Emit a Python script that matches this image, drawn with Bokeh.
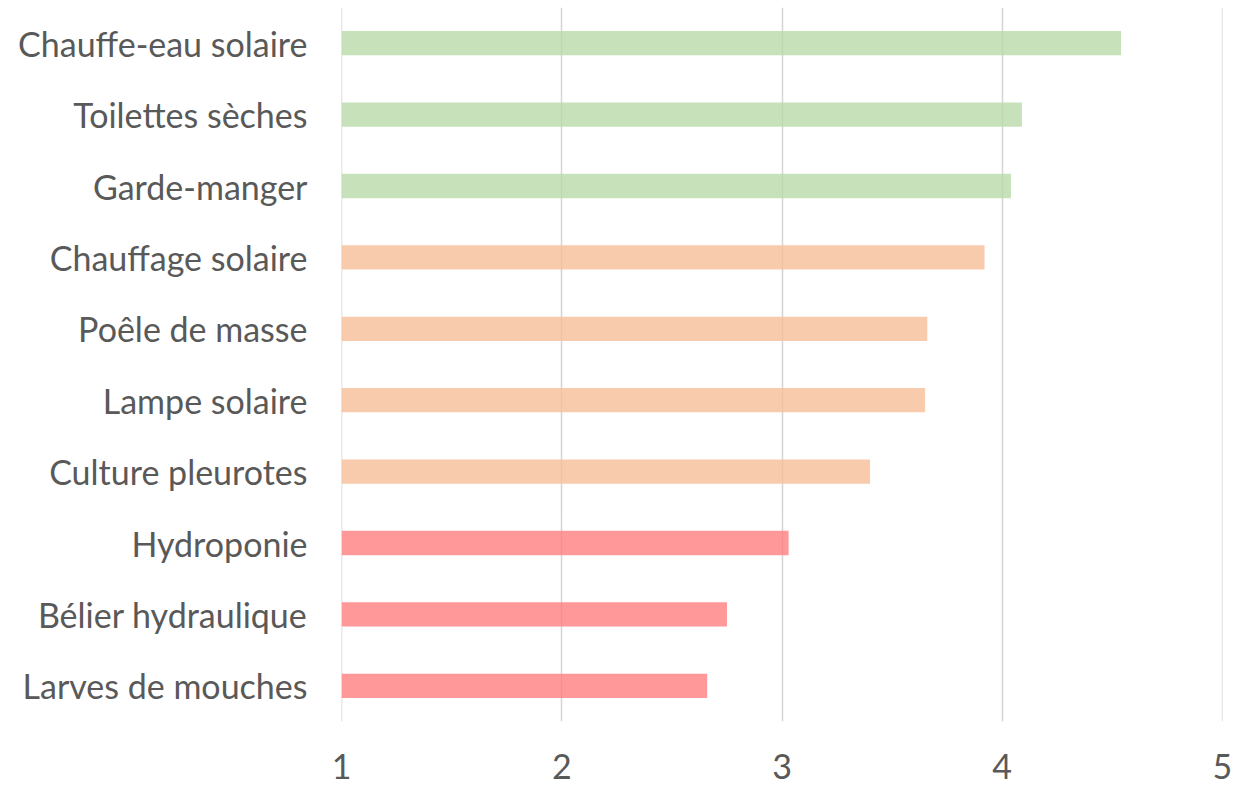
from bokeh.plotting import figure
from bokeh.models import ColumnDataSource, FactorRange, Range1d, FixedTicker
from bokeh.embed import file_html
from bokeh.resources import INLINE

categories = ["Chauffe-eau solaire", "Toilettes sèches", "Garde-manger", "Chauffage solaire",
              "Poêle de masse", "Lampe solaire", "Culture pleurotes", "Hydroponie",
              "Bélier hydraulique", "Larves de mouches"]
values = [4.54, 4.09, 4.04, 3.92, 3.66, 3.65, 3.40, 3.03, 2.75, 2.66]
groups = ["vert", "vert", "vert", "orange", "orange", "orange", "orange", "rouge", "rouge", "rouge"]
group_colors = {"vert": "#b9dbaa", "orange": "#f6be98", "rouge": "#ff8080"}
x_ticks = [1, 2, 3, 4, 5]
baseline = 1

src = ColumnDataSource(dict(
    cat=categories,
    val=values,
    left=[baseline] * len(values),
    color=[group_colors[g] for g in groups],
))

p = figure(width=1237, height=786, output_backend="svg", toolbar_location=None,
           y_range=FactorRange(factors=list(reversed(categories)), range_padding=0),
           x_range=Range1d(0.999, 5.001),
           min_border_left=341, min_border_right=15, min_border_top=7, min_border_bottom=65)

p.hbar(y="cat", left="left", right="val", height=0.34, fill_color="color", fill_alpha=0.8,
       line_color=None, source=src)

p.outline_line_color = None
p.background_fill_color = "white"
p.border_fill_color = "white"

p.ygrid.grid_line_color = None
p.xgrid.grid_line_color = "#d4d4d4"
p.xgrid.grid_line_width = 1.5
p.xaxis.ticker = FixedTicker(ticks=x_ticks)

for ax in (p.xaxis[0], p.yaxis[0]):
    ax.axis_line_color = None
    ax.major_tick_line_color = None
    ax.minor_tick_line_color = None
    ax.major_label_text_font = "Lato"
    ax.major_label_text_font_size = "34px"
    ax.major_label_text_color = "#595959"

p.yaxis.major_label_standoff = 28
p.xaxis.major_label_standoff = 26

open("out.html", "w").write(file_html(p, INLINE))
